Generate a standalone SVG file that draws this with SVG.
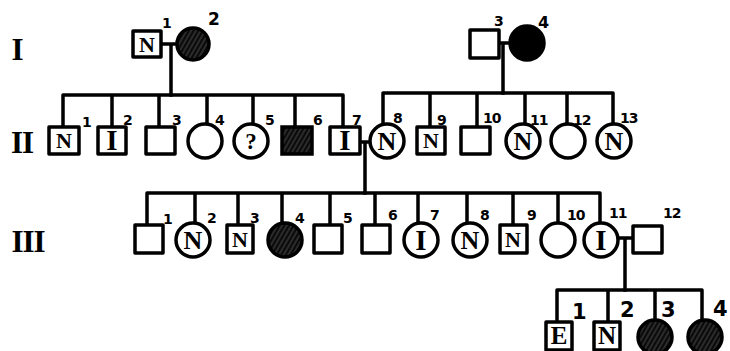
<svg xmlns="http://www.w3.org/2000/svg" width="730" height="351" viewBox="0 0 730 351">
<defs>
<pattern id="hatch" width="4" height="4" patternUnits="userSpaceOnUse" patternTransform="rotate(30)">
<rect width="4" height="4" fill="#0a0a0a"/>
<line x1="1" y1="0" x2="1" y2="4" stroke="#777" stroke-width="0.6"/>
</pattern>
<style>
.s{fill:#fff;stroke:#000;stroke-width:3.5;stroke-linejoin:round}
.h{fill:url(#hatch);stroke:#000;stroke-width:3.5}
.b{fill:#000;stroke:#000;stroke-width:3.5}
.ln{fill:none;stroke:#000;stroke-width:3.5;stroke-linejoin:round;stroke-linecap:square}
.n{font-family:"DejaVu Sans","Liberation Sans",sans-serif;font-weight:bold;font-size:14px;fill:#000}
.n4{font-family:"DejaVu Sans","Liberation Sans",sans-serif;font-weight:bold;font-size:21px;fill:#000}
.g{font-family:"Liberation Serif",serif;font-weight:bold;font-size:31px;fill:#000;text-anchor:middle;letter-spacing:-1px}
.ls{font-family:"Liberation Serif",serif;font-weight:bold;font-size:22px;fill:#000;text-anchor:middle}
.lc{font-family:"Liberation Serif",serif;font-weight:bold;font-size:26px;fill:#000;text-anchor:middle}
.li{font-family:"Liberation Serif",serif;font-weight:bold;font-size:29px;fill:#000;text-anchor:middle}
.l4{font-family:"Liberation Serif",serif;font-weight:bold;font-size:25px;fill:#000;text-anchor:middle}
</style>
</defs>
<rect width="730" height="351" fill="#fff"/>
<g id="labels">
<text class="g" x="17" y="60">I</text>
<text class="g" x="22" y="153">II</text>
<text class="g" x="28" y="252">III</text>
</g>
<g id="connectors">
<path class="ln" d="M161,44 H177 M171,44 V95"/>
<path class="ln" d="M499,43 H510 M503,43 V93"/>
<path class="ln" d="M63,127 V95 H343 V127 M112,95 V127 M159,95 V127 M207,95 V124 M253,95 V124 M295,95 V127"/>
<path class="ln" d="M383,125 V93 H613 V124 M430,93 V127 M477,93 V127 M525,93 V124 M567,93 V124"/>
<path class="ln" d="M360,142 H370 M365,142 V193"/>
<path class="ln" d="M147,225 V193 H600 V223 M195,193 V223 M238,193 V225 M282,193 V223 M330,193 V225 M375,193 V225 M418,193 V223 M467,193 V223 M513,193 V225 M558,193 V223"/>
<path class="ln" d="M618,238 H633 M625,238 V290"/>
<path class="ln" d="M557,322 V290 H702 V320 M608,290 V322 M655,290 V320"/>
</g>
<g id="I-1"><rect class="s" x="133" y="31" width="28" height="26"/><text class="ls" x="147" y="52">N</text><text class="n" x="162" y="28">1</text></g>
<g id="I-2"><circle class="h" cx="193" cy="44" r="16"/><text class="n" x="208" y="25" style="font-size:17px">2</text></g>
<g id="I-3"><rect class="s" x="470" y="30" width="29" height="28"/><text class="n" x="494" y="26">3</text></g>
<g id="I-4"><circle class="b" cx="527" cy="43" r="17"/><text class="n" x="538" y="28" style="font-size:16px">4</text></g>
<g id="II-1"><rect class="s" x="49" y="127" width="30" height="27"/><text class="ls" x="64" y="148">N</text><text class="n" x="82" y="127">1</text></g>
<g id="II-2"><rect class="s" x="98" y="127" width="28" height="27"/><text class="li" x="112" y="150">I</text><text class="n" x="123" y="125">2</text></g>
<g id="II-3"><rect class="s" x="146" y="127" width="29" height="27"/><text class="n" x="172" y="125">3</text></g>
<g id="II-4"><circle class="s" cx="205" cy="141" r="17"/><text class="n" x="215" y="125">4</text></g>
<g id="II-5"><circle class="s" cx="251" cy="141" r="17"/><text class="lc" x="251" y="149" style="font-size:23px">?</text><text class="n" x="265" y="125">5</text></g>
<g id="II-6"><rect class="h" x="282" y="127" width="30" height="27"/><text class="n" x="313" y="125">6</text></g>
<g id="II-7"><rect class="s" x="330" y="127" width="30" height="27"/><text class="li" x="345" y="150">I</text><text class="n" x="352" y="125">7</text></g>
<g id="II-8"><circle class="s" cx="387" cy="141" r="17"/><text class="lc" x="387" y="150">N</text><text class="n" x="393" y="123">8</text></g>
<g id="II-9"><rect class="s" x="417" y="127" width="28" height="27"/><text class="ls" x="431" y="148">N</text><text class="n" x="437" y="125">9</text></g>
<g id="II-10"><rect class="s" x="461" y="127" width="29" height="27"/><text class="n" x="483" y="123" style="letter-spacing:-1px">10</text></g>
<g id="II-11"><circle class="s" cx="523" cy="141" r="17"/><text class="lc" x="523" y="150">N</text><text class="n" x="530" y="125" style="letter-spacing:-1px">11</text></g>
<g id="II-12"><circle class="s" cx="568" cy="141" r="17"/><text class="n" x="573" y="125" style="letter-spacing:-1px">12</text></g>
<g id="II-13"><circle class="s" cx="614" cy="141" r="17"/><text class="lc" x="614" y="150">N</text><text class="n" x="620" y="123" style="letter-spacing:-1px">13</text></g>
<g id="III-1"><rect class="s" x="135" y="225" width="28" height="28"/><text class="n" x="163" y="224">1</text></g>
<g id="III-2"><circle class="s" cx="193" cy="240" r="17"/><text class="lc" x="193" y="249">N</text><text class="n" x="207" y="223">2</text></g>
<g id="III-3"><rect class="s" x="227" y="225" width="26" height="28"/><text class="ls" x="240" y="247">N</text><text class="n" x="250" y="223">3</text></g>
<g id="III-4"><circle class="h" cx="285" cy="240" r="17"/><text class="n" x="295" y="223">4</text></g>
<g id="III-5"><rect class="s" x="314" y="225" width="28" height="28"/><text class="n" x="343" y="223">5</text></g>
<g id="III-6"><rect class="s" x="362" y="225" width="28" height="28"/><text class="n" x="388" y="220">6</text></g>
<g id="III-7"><circle class="s" cx="421" cy="240" r="17"/><text class="li" x="421" y="250">I</text><text class="n" x="430" y="220">7</text></g>
<g id="III-8"><circle class="s" cx="470" cy="240" r="17"/><text class="lc" x="470" y="249">N</text><text class="n" x="480" y="220">8</text></g>
<g id="III-9"><rect class="s" x="500" y="225" width="27" height="28"/><text class="ls" x="513" y="247">N</text><text class="n" x="527" y="220">9</text></g>
<g id="III-10"><circle class="s" cx="558" cy="240" r="17"/><text class="n" x="567" y="220" style="letter-spacing:-1px">10</text></g>
<g id="III-11"><circle class="s" cx="601" cy="240" r="17"/><text class="li" x="601" y="250">I</text><text class="n" x="609" y="218" style="letter-spacing:-1px">11</text></g>
<g id="III-12"><rect class="s" x="633" y="226" width="29" height="27"/><text class="n" x="663" y="218" style="letter-spacing:-1px">12</text></g>
<g id="IV-1"><rect class="s" x="546" y="322" width="26" height="28"/><text class="l4" x="559" y="344">E</text><text class="n4" x="572" y="319">1</text></g>
<g id="IV-2"><rect class="s" x="594" y="322" width="26" height="28"/><text class="l4" x="607" y="344">N</text><text class="n4" x="620" y="317">2</text></g>
<g id="IV-3"><circle class="h" cx="655" cy="337" r="17"/><text class="n4" x="661" y="317">3</text></g>
<g id="IV-4"><circle class="h" cx="705" cy="337" r="17"/><text class="n4" x="713" y="316">4</text></g>
</svg>
